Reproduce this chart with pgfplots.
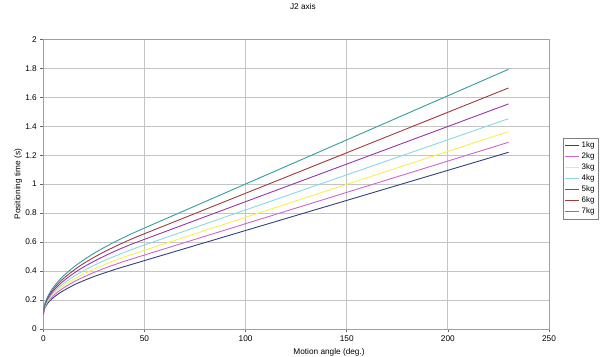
\documentclass[border=0pt]{standalone}
\usepackage{pgfplots}
\pgfplotsset{compat=1.18}
\usepackage{fontspec}
\setmainfont{Liberation Sans}
\definecolor{c1}{HTML}{333F80}
\definecolor{c2}{HTML}{CC66CC}
\definecolor{c3}{HTML}{F5F04A}
\definecolor{c4}{HTML}{88D8E8}
\definecolor{c5}{HTML}{9933AA}
\definecolor{c6}{HTML}{A03A3A}
\definecolor{c7}{HTML}{339E9E}
\definecolor{gridc}{HTML}{C4C4C4}
\definecolor{framec}{HTML}{A0A0A0}
\begin{document}
\begin{tikzpicture}
\useasboundingbox (-43.3bp,-28bp) rectangle (556.7bp,329bp);
\begin{axis}[
  at={(0,0)}, anchor=south west,
  scale only axis, width=505.7bp, height=289.7bp,
  xmin=0, xmax=250, ymin=0, ymax=2,
  xtick={0,50,...,250}, ytick={0,0.2,...,2.01},
  yticklabels={0,0.2,0.4,0.6,0.8,1,1.2,1.4,1.6,1.8,2},
  grid=major, major grid style={gridc, line width=0.8bp},
  axis line style={framec, line width=0.9bp},
  tick style={black!60, line width=0.6bp}, tick align=outside, major tick length=3bp,
  xtick pos=bottom, ytick pos=left,
  font=\fontsize{8.3}{10}\selectfont,
  ticklabel style={font=\fontsize{8.3}{10}\selectfont},
  /pgf/number format/assume math mode=true,
  title={J2 axis},
  title style={at={(rel axis cs:0.5135,1.094)}, anchor=center, font=\fontsize{8.3}{10}\selectfont},
  xlabel={Motion angle (deg.)},
  xlabel style={at={(rel axis cs:0.565,-0.0794)}, anchor=center, font=\fontsize{8.3}{10}\selectfont},
  ylabel={Positioning time (s)},
  ylabel style={at={(rel axis cs:-0.0494,0.5)}, anchor=center, rotate=0, font=\fontsize{8.3}{10}\selectfont},
  legend style={at={(rel axis cs:1.0277,0.659)}, anchor=north west, draw=black!50, line width=0.5bp,
    font=\fontsize{8}{9}\selectfont, inner xsep=1.5bp, inner ysep=1.5bp, row sep=-0.2bp,
    /tikz/every even column/.append style={column sep=1bp}},
  legend cell align=left,
  legend image code/.code={\draw[#1, line width=0.9bp] (0bp,0bp) -- (14bp,0bp);},
  every axis plot/.append style={line width=0.9bp, smooth, tension=0.5},
]
\addplot[c1] coordinates {(0,0.100) (0.5,0.137) (1,0.152) (2,0.174) (3,0.191) (5,0.217) (7.5,0.243) (10,0.265) (15,0.303) (20,0.334) (25,0.362) (30,0.386) (35,0.409) (39.6,0.429) (100,0.680) (230,1.220)};
\addlegendentry{1kg}
\addplot[c2] coordinates {(0,0.100) (0.5,0.141) (1,0.158) (2,0.182) (3,0.2005) (5,0.230) (7.5,0.259) (10,0.2835) (15,0.325) (20,0.3595) (25,0.390) (30,0.418) (35,0.443) (40,0.467) (45,0.489) (100,0.727) (230,1.289)};
\addlegendentry{2kg}
\addplot[c3] coordinates {(0,0.100) (0.5,0.144) (1,0.163) (2,0.189) (3,0.2085) (5,0.240) (7.5,0.272) (10,0.298) (15,0.343) (20,0.380) (25,0.413) (30,0.443) (35,0.471) (40,0.496) (47.3,0.531) (100,0.771) (230,1.363)};
\addlegendentry{3kg}
\addplot[c4] coordinates {(0,0.100) (0.5,0.148) (1,0.168) (2,0.196) (3,0.2175) (5,0.252) (7.5,0.286) (10,0.3145) (15,0.363) (20,0.403) (25,0.439) (30,0.4715) (35,0.501) (40,0.529) (49,0.575) (100,0.822) (230,1.452)};
\addlegendentry{4kg}
\addplot[c5] coordinates {(0,0.100) (0.5,0.152) (1,0.1735) (2,0.204) (3,0.227) (5,0.264) (7.5,0.301) (10,0.332) (15,0.3845) (20,0.4285) (25,0.467) (30,0.502) (35,0.535) (40,0.565) (45,0.593) (50,0.619) (100,0.879) (230,1.554)};
\addlegendentry{5kg}
\addplot[c6] coordinates {(0,0.100) (0.5,0.156) (1,0.179) (2,0.2115) (3,0.2365) (5,0.276) (7.5,0.316) (10,0.349) (15,0.405) (20,0.453) (25,0.494) (30,0.532) (35,0.566) (40,0.599) (45,0.629) (49.7,0.656) (100,0.937) (230,1.664)};
\addlegendentry{6kg}
\addplot[c7] coordinates {(0,0.100) (0.5,0.160) (1,0.184) (2,0.219) (3,0.246) (5,0.289) (7.5,0.331) (10,0.367) (15,0.427) (20,0.477) (25,0.522) (30,0.562) (35,0.599) (40,0.633) (47.9,0.684) (100,1.001) (230,1.793)};
\addlegendentry{7kg}
\end{axis}
\end{tikzpicture}
\end{document}
